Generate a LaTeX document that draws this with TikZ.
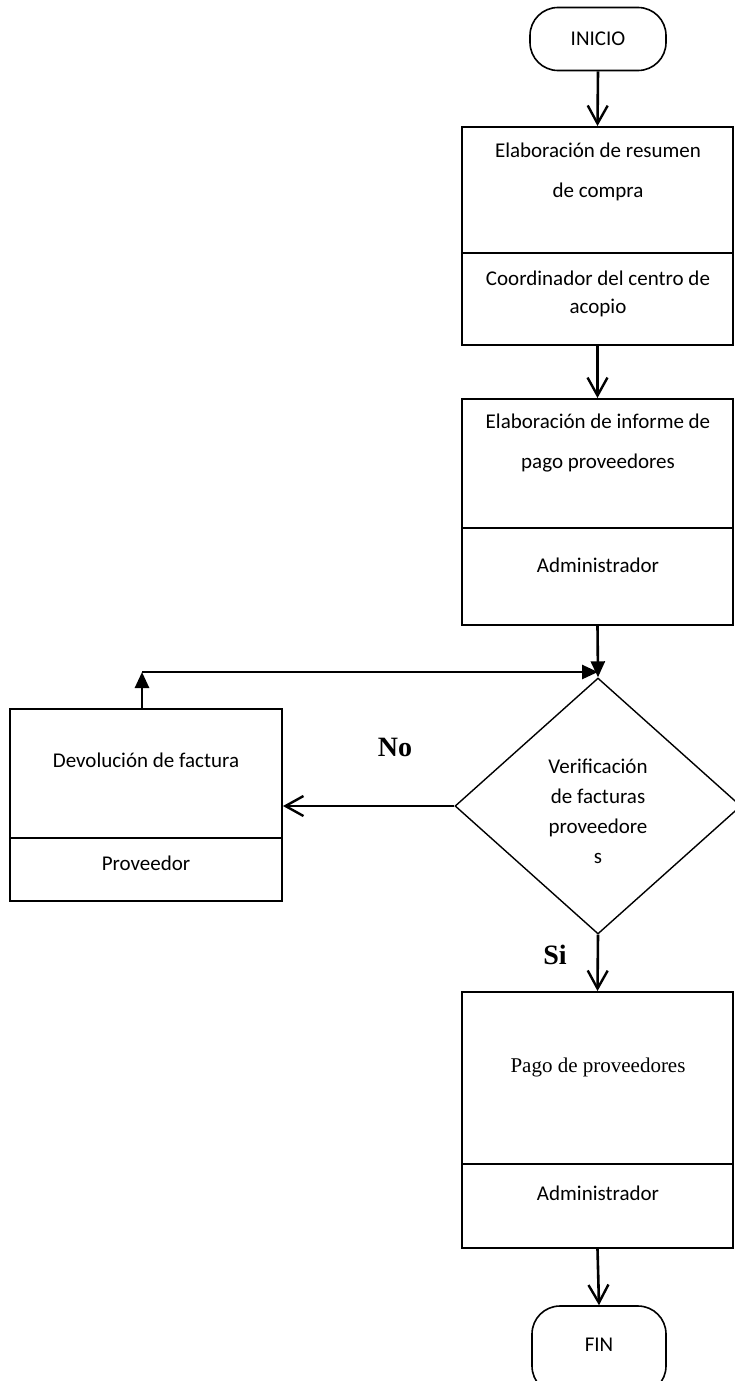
\documentclass[tikz,border=0pt]{standalone}
\usepackage{fontspec}
\setmainfont{Carlito}
\newfontfamily\timesfont{Liberation Serif}
\usetikzlibrary{arrows.meta,shapes.geometric}

\tikzset{
  caja/.style={draw, line width=1pt, minimum width=135.5pt, inner sep=0pt},
  terminal/.style={draw, line width=0.8pt, rounded corners=14pt, minimum width=68pt,
    minimum height=31.5pt, inner sep=0pt, font=\fontsize{10.5}{13}\selectfont},
  decision/.style={draw, diamond, line width=0.7pt, minimum width=143pt, minimum height=128pt, inner sep=0pt},
  texto/.style={align=center, inner sep=0pt, font=\fontsize{10.5}{20}\selectfont},
  flecha/.style={line width=1.3pt, -{Straight Barb[length=9pt,width=10pt,line width=1.2pt]}},
  flechallena/.style={line width=1.3pt, -{Triangle[length=8pt,width=7pt]}},
  etiqueta/.style={font=\timesfont\bfseries\fontsize{14}{16}\selectfont},
}

\begin{document}
\begin{tikzpicture}[x=0.5pt, y=-0.5pt]
\useasboundingbox (0,0) rectangle (734,1381);

% inicio
\node[terminal] (inicio) at (598,39) {INICIO};

% resumen de compra
\node[caja, minimum height=63pt] (resumen) at (597.5,190) {};
\node[caja, minimum height=46pt] (resumenResp) at (597.5,299) {};
\node[texto] (tResumen) at (598,172) {Elaboración de resumen\\de compra};
\node[texto, font=\fontsize{10.5}{14}\selectfont] (tResumenResp) at (598,294) {Coordinador del centro de\\acopio};

% informe de pago
\node[caja, minimum height=64.5pt] (informe) at (597.5,463.5) {};
\node[caja, minimum height=48.5pt] (informeResp) at (597.5,576.5) {};
\node[texto] (tInforme) at (598,443) {Elaboración de informe de\\pago proveedores};
\node[texto] (tInformeResp) at (598,565) {Administrador};

% verificacion
\node[decision] (verif) at (598,806) {};
\node[texto, font=\fontsize{10.5}{15}\selectfont] (tVerif) at (598,811) {Verificación\\de facturas\\proveedore\\s};

% devolucion
\node[caja, minimum width=136pt, minimum height=64.5pt] (devolucion) at (146,773.5) {};
\node[caja, minimum width=136pt, minimum height=31.5pt] (devolucionResp) at (146,869.5) {};
\node[texto] (tDevolucion) at (146,760) {Devolución de factura};
\node[texto] (tDevolucionResp) at (146,863) {Proveedor};

% pago
\node[caja, minimum height=86pt] (pago) at (597.5,1078) {};
\node[caja, minimum height=42pt] (pagoResp) at (597.5,1206) {};
\node[texto, font=\timesfont\fontsize{10.5}{20}\selectfont] (tPago) at (598,1067) {Pago de proveedores};
\node[texto] (tPagoResp) at (598,1193) {Administrador};

% fin
\node[terminal, minimum width=67pt, minimum height=44pt, text depth=5pt] (fin) at (599,1350) {FIN};

% etiquetas
\node[etiqueta] (no) at (395,747) {No};
\node[etiqueta] (si) at (555,955) {Si};

% conectores
\coordinate (esquina) at (142,672);
\draw[flecha] (inicio.south) -- (resumen.north);
\draw[flecha] (resumenResp.south) -- (informe.north);
\draw[flechallena] (informeResp.south) -- (verif.north);
\draw[flecha] (verif.west) -- (devolucion.east |- verif.west);
\draw[flechallena] (esquina |- devolucion.north) -- (esquina);
\draw[flechallena] (esquina) -- (esquina -| verif.north);
\draw[flecha] (verif.south) -- (pago.north);
\draw[flecha] (pagoResp.south) -- (fin.north);
\end{tikzpicture}
\end{document}
